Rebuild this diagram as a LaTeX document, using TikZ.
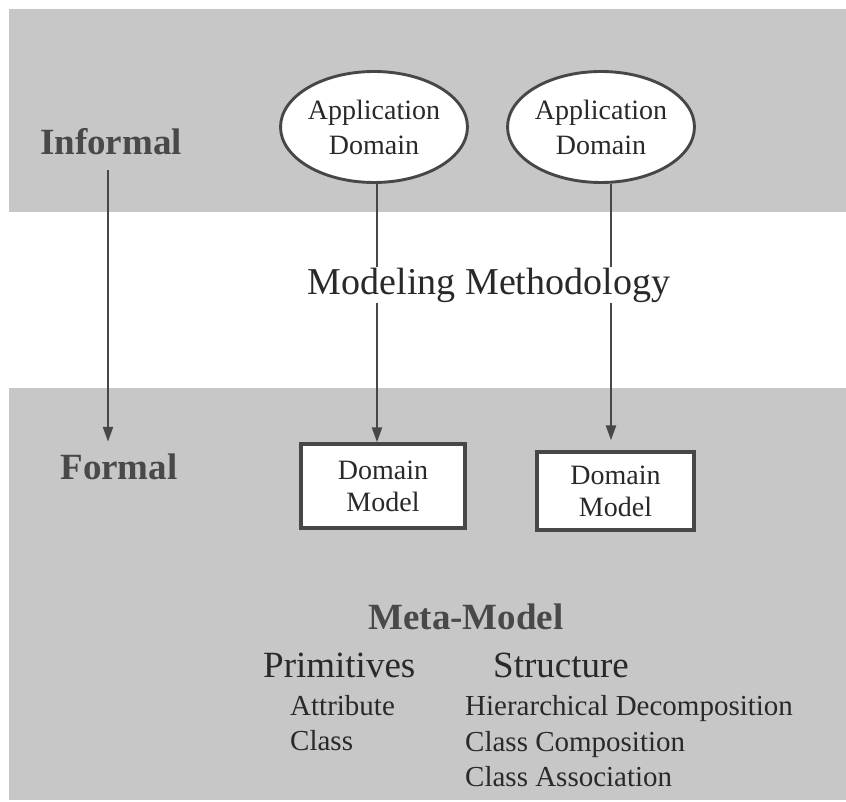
\documentclass[tikz,border=0pt]{standalone}
\usepackage{fontspec}
\setmainfont{Liberation Serif}
\usetikzlibrary{shapes.geometric,arrows.meta}
\definecolor{bandgray}{gray}{0.78}
\definecolor{ink}{gray}{0.16}
\definecolor{lineink}{gray}{0.28}
\newcommand{\fsz}[1]{\fontsize{#1}{1.2\dimexpr#1pt\relax}\selectfont}
\tikzset{
  band/.style={fill=bandgray},
  levellabel/.style={font=\fsz{37}\bfseries, text=ink!85, inner sep=0pt},
  domainellipse/.style={ellipse, draw=lineink, line width=2.9pt, fill=white,
    align=center, inner sep=0pt, text=ink,
    font=\fontsize{28}{35}\selectfont},
  domainbox/.style={rectangle, draw=lineink, line width=3.4pt, fill=white,
    align=center, inner sep=0pt, text=ink,
    font=\fontsize{28}{32}\selectfont},
  flow/.style={draw=lineink, line width=2.4pt,
    -{Triangle[length=15pt,width=10pt]}},
  heading/.style={font=\fsz{37}, text=ink, inner sep=0pt},
  entry/.style={font=\fsz{29}, text=ink, inner sep=0pt, anchor=base west},
}
\begin{document}
\begin{tikzpicture}[x=1pt,y=-1pt]
  \useasboundingbox (0,0) rectangle (846,802);
  % shaded levels: informal (top) and formal (bottom)
  \fill[band] (9,9) rectangle (846,212);
  \fill[band] (9,388) rectangle (846,800);

  % level labels and the informal-to-formal axis
  \node[levellabel] (inf) at (111,142) {Informal};
  \node[levellabel] (form) at (119,467) {Formal};
  \coordinate (axistop) at ([xshift=-3pt,yshift=-15pt]inf.south);
  \coordinate (axisbot) at ([xshift=-11pt,yshift=12pt]form.north);
  \draw[flow] (axistop) -- (axisbot);

  % application domains
  \node[domainellipse, minimum width=174pt, minimum height=111pt]
    (app1) at (374,127) {Application\\Domain};
  \node[domainellipse, minimum width=164pt, minimum height=111pt]
    (app2) at (601,127) {Application\\Domain};

  % domain models
  \node[domainbox, minimum width=164pt, minimum height=84pt]
    (dm1) at (383,486) {Domain\\Model};
  \node[domainbox, minimum width=157pt, minimum height=78pt]
    (dm2) at (615.5,491) {Domain\\Model};

  % modeling steps
  \draw[flow] ([xshift=3pt]app1.south) -- ([xshift=3pt]app1.south |- dm1.north);
  \draw[flow, shorten >=10pt] ([xshift=10pt]app2.south) -- ([xshift=10pt]app2.south |- dm2.north);

  \node[font=\fsz{38}, text=ink, fill=white, inner xsep=2pt, inner ysep=1pt]
    (method) at (489,285) {Modeling Methodology};

  % meta-model
  \node[font=\fsz{37}\bfseries, text=ink!85, inner sep=0pt] (meta) at (466,617) {Meta-Model};
  \node[heading, anchor=west] (prim) at (263,665) {Primitives};
  \node[heading, anchor=west] (struct) at (493,665) {Structure};
  \node[entry] (attr) at (290,715) {Attribute};
  \node[entry] (cls) at (290,750) {Class};
  \node[entry] (hier) at (465,715) {Hierarchical Decomposition};
  \node[entry] (comp) at (465,751) {Class Composition};
  \node[entry] (assoc) at (465,786) {Class Association};
\end{tikzpicture}
\end{document}
